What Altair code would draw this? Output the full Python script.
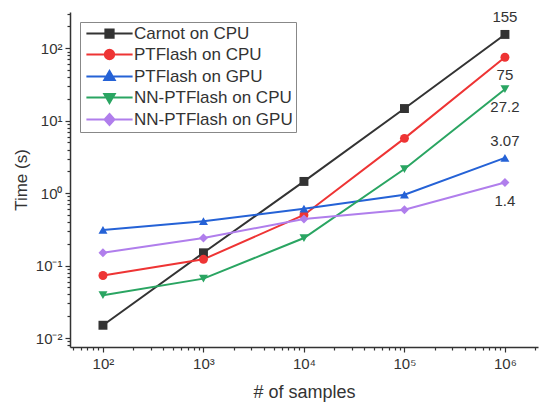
import altair as alt
import pandas as pd

samples = [1e2, 1e3, 1e4, 1e5, 1e6]
series = ["Carnot on CPU", "PTFlash on CPU", "PTFlash on GPU", "NN-PTFlash on CPU", "NN-PTFlash on GPU"]
carnot_cpu = [0.015, 0.15, 1.45, 14.7, 155]
ptflash_cpu = [0.073, 0.122, 0.5, 5.7, 75]
ptflash_gpu = [0.31, 0.41, 0.61, 0.95, 3.07]
nn_cpu = [0.039, 0.066, 0.24, 2.15, 27.2]
nn_gpu = [0.15, 0.24, 0.44, 0.59, 1.4]
end_labels = ["155", "75", "3.07", "27.2", "1.4"]
label_above = [True, False, True, False, False]

colors = ["#333333", "#ee3434", "#2562d6", "#2aa562", "#b07eec"]
shapes = ["square", "circle", "triangle-up", "triangle-down", "diamond"]
legend_paths = [
    "M-4.2,0H4.2M-0.75,-0.75H0.75V0.75H-0.75Z",
    "M-4.2,0H4.2M-0.85,0A0.85,0.85,0,1,0,0.85,0A0.85,0.85,0,1,0,-0.85,0Z",
    "M-4.2,0H4.2M0,-1.0L0.95,0.65L-0.95,0.65Z",
    "M-4.2,0H4.2M0,1.0L0.95,-0.65L-0.95,-0.65Z",
    "M-4.2,0H4.2M0,-1.0L0.9,0L0,1.0L-0.9,0Z",
]

rows = []
for name, vals in zip(series, [carnot_cpu, ptflash_cpu, ptflash_gpu, nn_cpu, nn_gpu]):
    for s, v in zip(samples, vals):
        rows.append({"samples": s, "time": v, "series": name})
df = pd.DataFrame(rows)

lab = pd.DataFrame({
    "samples": [samples[-1]] * 5,
    "time": [carnot_cpu[-1], ptflash_cpu[-1], ptflash_gpu[-1], nn_cpu[-1], nn_gpu[-1]],
    "label": end_labels,
    "above": label_above,
})

FONT = "Liberation Sans"
xdom = [10 ** 1.672, 10 ** 6.329]
ydom = [10 ** -2.124, 10 ** 2.5]

major_x = [1e2, 1e3, 1e4, 1e5, 1e6]
minor_x = [m * 10 ** k for k in range(1, 7) for m in range(2, 10) if xdom[0] <= m * 10 ** k <= xdom[1]]
major_y = [1e-2, 1e-1, 1, 10, 100]
minor_y = [m * 10 ** k for k in range(-3, 3) for m in range(2, 10) if ydom[0] <= m * 10 ** k <= ydom[1]]

sup = ("(round(log(datum.value)/LN10)==-2?'10⁻²':round(log(datum.value)/LN10)==-1?'10⁻¹':"
       "round(log(datum.value)/LN10)==0?'10⁰':round(log(datum.value)/LN10)==1?'10¹':"
       "round(log(datum.value)/LN10)==2?'10²':round(log(datum.value)/LN10)==3?'10³':"
       "round(log(datum.value)/LN10)==4?'10⁴':round(log(datum.value)/LN10)==5?'10⁵':'10⁶')")

xscale = alt.Scale(type="log", domain=xdom, nice=False)
yscale = alt.Scale(type="log", domain=ydom, nice=False)
cscale = alt.Scale(domain=series, range=colors)

x_major = alt.X("samples:Q", scale=xscale, title="# of samples",
                axis=alt.Axis(orient="bottom", values=major_x, labelExpr=sup, grid=False,
                              tickSize=5, labelFontSize=15, titleFontSize=18,
                              labelPadding=4, titlePadding=12))
y_major = alt.Y("time:Q", scale=yscale, title="Time (s)",
                axis=alt.Axis(orient="left", values=major_y, labelExpr=sup, grid=False,
                              tickSize=5, labelFontSize=15, titleFontSize=17,
                              labelPadding=3, titlePadding=5))
x_minor = alt.X("samples:Q", scale=xscale, title=None,
                axis=alt.Axis(orient="bottom", values=minor_x, labels=False, grid=False,
                              domain=False, tickSize=3))
y_minor = alt.Y("time:Q", scale=yscale, title=None,
                axis=alt.Axis(orient="left", values=minor_y, labels=False, grid=False,
                              domain=False, tickSize=3))

lines = alt.Chart(df).mark_line(strokeWidth=2, clip=True).encode(
    x=x_minor, y=y_minor,
    color=alt.Color("series:N", scale=cscale, legend=None),
    detail="series:N",
)

points = alt.Chart(df).mark_point(filled=True, size=80, opacity=1).encode(
    x=x_major, y=y_major,
    color=alt.Color("series:N", scale=cscale, legend=None),
    shape=alt.Shape("series:N", scale=alt.Scale(domain=series, range=shapes), legend=None),
)

legend_layer = alt.Chart(df).transform_filter("false").mark_point(
    filled=True, size=121, strokeWidth=2, opacity=1
).encode(
    x=alt.X("samples:Q", scale=xscale, axis=None),
    y=alt.Y("time:Q", scale=yscale, axis=None),
    fill=alt.Fill("series:N", scale=alt.Scale(domain=series, range=colors), title=None),
    stroke=alt.Stroke("series:N", scale=alt.Scale(domain=series, range=colors), title=None),
    shape=alt.Shape("series:N", scale=alt.Scale(domain=series, range=legend_paths), title=None,
                    legend=alt.Legend(orient="none", legendX=10, legendY=10, title=None,
                                      labelFontSize=17, labelFont=FONT, labelColor="#333333",
                                      strokeColor="#888888", fillColor="white", padding=3,
                                      rowPadding=3, symbolSize=121, symbolStrokeWidth=2,
                                      symbolOffset=18, labelOffset=16, symbolOpacity=1)),
)

txt_above = alt.Chart(lab).transform_filter("datum.above").mark_text(
    fontSize=15, font=FONT, color="#333333", dy=-17
).encode(x=alt.X("samples:Q", scale=xscale, axis=None),
         y=alt.Y("time:Q", scale=yscale, axis=None), text="label:N")
txt_below = alt.Chart(lab).transform_filter("!datum.above").mark_text(
    fontSize=15, font=FONT, color="#333333", dy=18
).encode(x=alt.X("samples:Q", scale=xscale, axis=None),
         y=alt.Y("time:Q", scale=yscale, axis=None), text="label:N")

chart = alt.layer(lines, points, legend_layer, txt_above, txt_below).resolve_scale(
    shape="independent", fill="independent", stroke="independent"
).resolve_axis(x="independent", y="independent").properties(
    width=468, height=335,
    autosize=alt.AutoSizeParams(type="none"),
    padding={"left": 70, "top": 12, "right": 2, "bottom": 63},
    background="white",
).configure_view(stroke=None).configure_axis(
    labelFont=FONT, titleFont=FONT, labelColor="#333333", titleColor="#333333",
    domainColor="#333333", tickColor="#333333", domainWidth=1.5, tickWidth=1.2,
    titleFontWeight="normal",
)

chart.save("out.html", embed_options={"renderer": "svg", "actions": False})
